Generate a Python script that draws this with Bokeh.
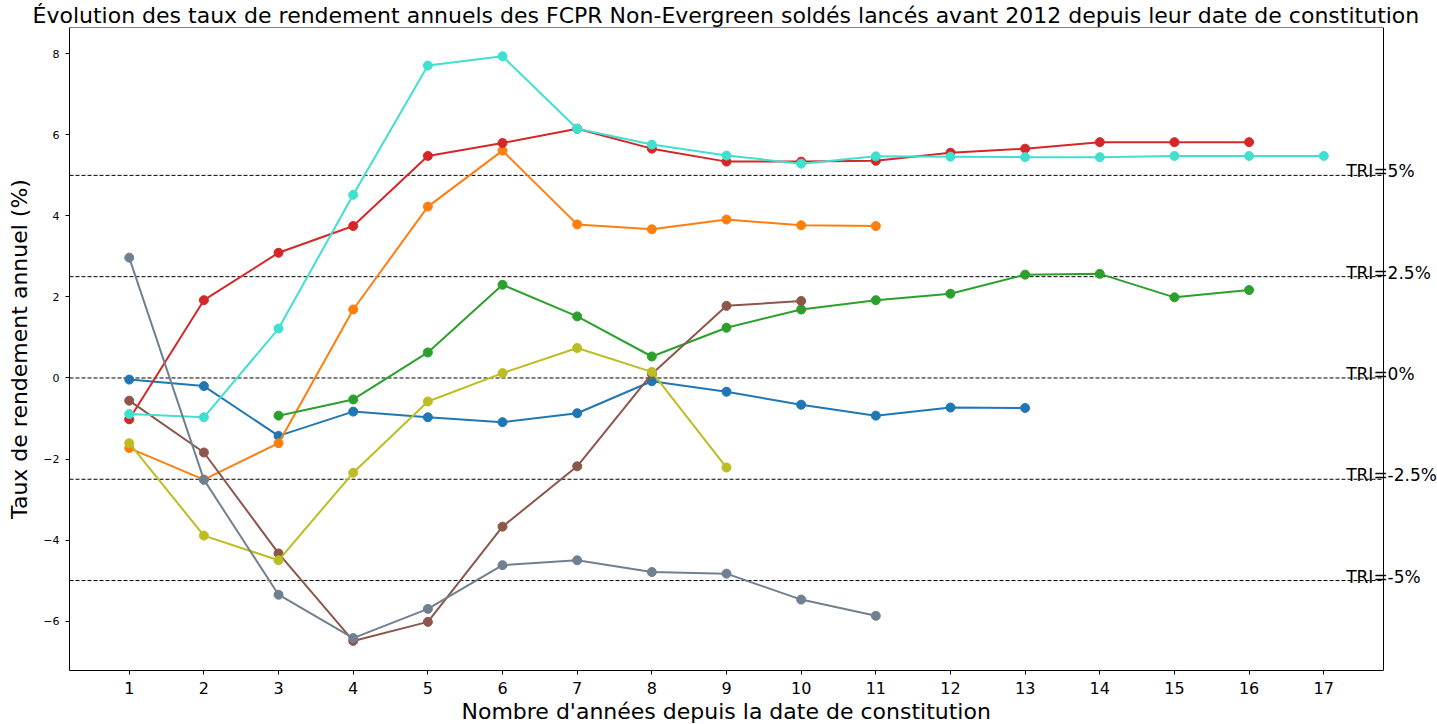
from bokeh.plotting import figure
from bokeh.models import Range1d, Span, Label, FixedTicker, Title
from bokeh.embed import file_html
from bokeh.resources import INLINE

TITLE = "Évolution des taux de rendement annuels des FCPR Non-Evergreen soldés lancés avant 2012 depuis leur date de constitution"
X_LABEL = "Nombre d'années depuis la date de constitution"
Y_LABEL = "Taux de rendement annuel (%)"

x_ticks = list(range(1, 18))
y_ticks = [-6, -4, -2, 0, 2, 4, 6, 8]
tri_levels = [5, 2.5, 0, -2.5, -5]
tri_texts = ["TRI=5%", "TRI=2.5%", "TRI=0%", "TRI=-2.5%", "TRI=-5%"]

blue_x = list(range(1, 14))
blue_y = [-0.04, -0.20, -1.43, -0.83, -0.97, -1.09, -0.87, -0.08, -0.34, -0.66, -0.93, -0.73, -0.74]

orange_x = list(range(1, 12))
orange_y = [-1.73, -2.51, -1.61, 1.69, 4.23, 5.61, 3.79, 3.67, 3.91, 3.77, 3.75]

green_x = list(range(3, 17))
green_y = [-0.93, -0.53, 0.63, 2.30, 1.52, 0.53, 1.24, 1.69, 1.92, 2.08, 2.55, 2.57, 1.99, 2.17]

red_x = list(range(1, 17))
red_y = [-1.02, 1.92, 3.09, 3.75, 5.48, 5.80, 6.15, 5.66, 5.34, 5.34, 5.36, 5.56, 5.66, 5.82, 5.82, 5.82]

brown_x = list(range(1, 11))
brown_y = [-0.56, -1.84, -4.33, -6.49, -6.02, -3.67, -2.18, 0.10, 1.78, 1.90]

olive_x = list(range(1, 10))
olive_y = [-1.61, -3.89, -4.50, -2.34, -0.58, 0.12, 0.74, 0.15, -2.21]

cyan_x = list(range(1, 18))
cyan_y = [-0.89, -0.97, 1.22, 4.52, 7.71, 7.94, 6.15, 5.76, 5.49, 5.29, 5.47, 5.46, 5.45, 5.45, 5.48, 5.48, 5.48]

gray_x = list(range(1, 12))
gray_y = [2.97, -2.51, -5.35, -6.42, -5.70, -4.62, -4.50, -4.79, -4.83, -5.47, -5.87]

series = [
    (blue_x, blue_y, "#1f77b4"),
    (orange_x, orange_y, "#ff7f0e"),
    (green_x, green_y, "#2ca02c"),
    (red_x, red_y, "#d62728"),
    (brown_x, brown_y, "#8c564b"),
    (olive_x, olive_y, "#bcbd22"),
    (cyan_x, cyan_y, "#40e0d0"),
    (gray_x, gray_y, "#708090"),
]

FONT = "DejaVu Sans"

# axes limits (matplotlib-like 5% margins) and extra room on the right for labels
X_MIN, X_MAX = 0.2, 17.8
Y_MIN, Y_MAX = -7.22, 8.65
X_EXTRA = 54 * (X_MAX - X_MIN) / 1314.0

W, H = 1437, 724
p = figure(width=W, height=H, output_backend="svg", toolbar_location=None,
           x_range=Range1d(X_MIN, X_MAX + X_EXTRA), y_range=Range1d(Y_MIN, Y_MAX),
           min_border_left=69, min_border_right=0,
           min_border_top=0, min_border_bottom=0)

# main title (centred over the plotting area, not over the label margin)
p.add_layout(Title(text=TITLE, text_font=FONT, text_font_size="22px",
                   text_font_style="normal", text_color="black",
                   align="left", offset=-37, standoff=0), "above")

p.xgrid.visible = False
p.ygrid.visible = False
p.outline_line_color = None
p.background_fill_color = "white"
p.border_fill_color = "white"

p.xaxis.ticker = FixedTicker(ticks=x_ticks)
p.yaxis.ticker = FixedTicker(ticks=y_ticks)
p.yaxis.major_label_overrides = {t: (str(t).replace("-", "\u2212")) for t in y_ticks}
p.xaxis.bounds = (X_MIN, X_MAX)

for ax in (p.xaxis[0], p.yaxis[0]):
    ax.axis_line_color = "black"
    ax.major_tick_line_color = "black"
    ax.major_tick_in = 0
    ax.major_tick_out = 4
    ax.minor_tick_line_color = None
    ax.major_label_text_font = FONT
    ax.major_label_text_color = "black"
    ax.axis_label_text_font = FONT
    ax.axis_label_text_font_style = "normal"
    ax.axis_label_text_color = "black"
    ax.axis_label_text_font_size = "22px"

p.yaxis.axis_label = Y_LABEL
p.xaxis.major_label_text_font_size = "16px"
p.yaxis.major_label_text_font_size = "11px"
p.xaxis.major_label_standoff = 7
p.yaxis.major_label_standoff = 6
p.yaxis.axis_label_standoff = 8

# x axis title, centred under the plotting area
p.add_layout(Title(text=X_LABEL, text_font=FONT, text_font_size="22px",
                   text_font_style="normal", text_color="black",
                   align="left", offset=392, standoff=1), "below")

# frame: top and right spines
p.segment(x0=[X_MIN], y0=[Y_MAX], x1=[X_MAX], y1=[Y_MAX], line_color="black", line_width=1)
p.add_layout(Span(location=X_MAX, dimension="height", line_color="black", line_width=1))

# TRI reference lines
p.segment(x0=[X_MIN] * len(tri_levels), y0=tri_levels, x1=[X_MAX] * len(tri_levels),
          y1=tri_levels, line_color="black", line_dash="4 2", line_width=1)

for xs, ys, c in series:
    p.line(xs, ys, line_color=c, line_width=2)
    p.scatter(xs, ys, size=9, fill_color=c, line_color=c)

for lv, t in zip(tri_levels, tri_texts):
    p.add_layout(Label(x=17.3, y=lv + 0.1, text=t, text_font=FONT,
                       text_font_size="17px", text_color="black",
                       text_baseline="alphabetic"))

open("out.html", "w").write(file_html(p, INLINE))
